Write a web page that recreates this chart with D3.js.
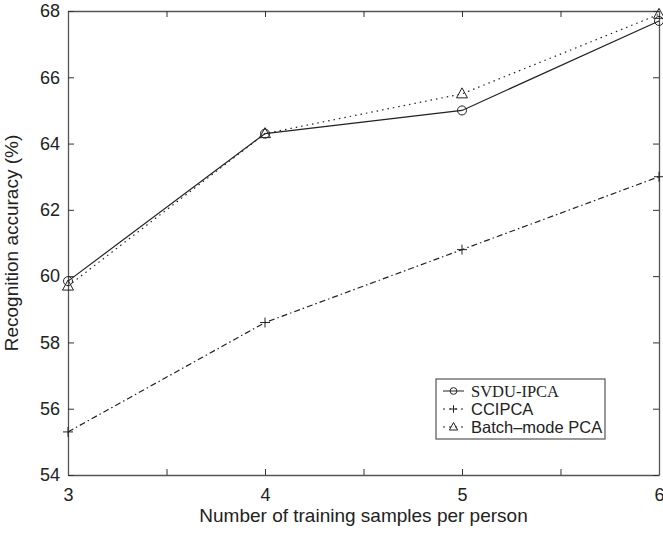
<!DOCTYPE html>
<html>
<head>
<meta charset="utf-8">
<script src="https://cdn.jsdelivr.net/npm/d3@7"></script>
<style>
body{margin:0;background:#fff;}
text{font-family:"Liberation Sans",Arial,sans-serif;fill:#222;}
</style>
</head>
<body>
<div id="chart"></div>
<script>
var samples = [3, 4, 5, 6];
var svduIpca = [59.85, 64.3, 65.0, 67.7];
var ccipca   = [55.3, 58.6, 60.8, 63.0];
var batchPca = [59.7, 64.3, 65.5, 67.9];
var xTicks = [3, 3.5, 4, 4.5, 5, 5.5, 6];
var yTicks = [54, 56, 58, 60, 62, 64, 66, 68];

var series = [
	{name:"SVDU-IPCA", values:svduIpca, dash:null, marker:"circle"},
	{name:"CCIPCA", values:ccipca, dash:"6,3,1.5,3", marker:"plus"},
	{name:"Batch\u2013mode PCA", values:batchPca, dash:"1.5,4", marker:"triangle"}
];

var margin = {top: 11, right: 4, bottom: 58, left: 68},
	width = 663 - margin.left - margin.right,
	height = 533 - margin.top - margin.bottom;

var x = d3.scaleLinear().domain([3,6]).range([0,width]);
var y = d3.scaleLinear().domain([54,68]).range([height,0]);

var svg = d3.select("#chart")
	.append("svg")
	.attr("width",663)
	.attr("height",533)
	.append("g")
	.attr("transform","translate(" + margin.left + "," + margin.top + ")");

// axes, ticks pointing inwards on all four sides
var tl = 6;
svg.append("g")
	.attr("transform","translate(0," + height + ")")
	.call(d3.axisBottom(x).tickValues(xTicks).tickSizeInner(-tl).tickSizeOuter(0)
		.tickFormat(function(d){ return d % 1 === 0 ? d : ""; }))
	.call(function(g){ g.selectAll("text").attr("dy","1.25em").style("font-size","18px"); });
svg.append("g")
	.call(d3.axisTop(x).tickValues(xTicks).tickSizeInner(-tl).tickSizeOuter(0).tickFormat(""));
svg.append("g")
	.call(d3.axisLeft(y).tickValues(yTicks).tickSizeInner(-tl).tickSizeOuter(0).tickPadding(8))
	.call(function(g){ g.selectAll("text").style("font-size","18px"); });
svg.append("g")
	.attr("transform","translate(" + width + ",0)")
	.call(d3.axisRight(y).tickValues(yTicks).tickSizeInner(-tl).tickSizeOuter(0).tickFormat(""));
svg.selectAll(".domain").attr("stroke","#555").attr("stroke-width",1.3);
svg.selectAll(".tick line").attr("stroke","#333");

svg.append("text")
	.attr("text-anchor","middle")
	.attr("transform","translate(" + (-50) + "," + (height/2) + ")rotate(-90)")
	.text("Recognition accuracy (%)")
	.style("font-size","19px");
svg.append("text")
	.attr("text-anchor","middle")
	.attr("x",width/2)
	.attr("y",height + 47)
	.text("Number of training samples per person")
	.style("font-size","19px");

var line = d3.line()
	.x(function(d,i){ return x(samples[i]); })
	.y(function(d){ return y(d); });

function drawMarker(g, type, cx, cy, k){
	k = k || 1;
	if(type === "circle"){
		g.append("circle").attr("cx",cx).attr("cy",cy).attr("r",4.5*k)
			.attr("fill","none").attr("stroke","#222");
	} else if(type === "plus"){
		g.append("path").attr("d","M"+(cx-5*k)+","+cy+"H"+(cx+5*k)+"M"+cx+","+(cy-5*k)+"V"+(cy+5*k))
			.attr("stroke","#222");
	} else {
		g.append("path").attr("d","M"+cx+","+(cy-6*k)+"L"+(cx+5.5*k)+","+(cy+4*k)+"L"+(cx-5.5*k)+","+(cy+4*k)+"Z")
			.attr("fill","none").attr("stroke","#222");
	}
}

series.forEach(function(s){
	svg.append("path")
		.datum(s.values)
		.attr("d",line)
		.attr("fill","none")
		.attr("stroke","#222")
		.attr("stroke-width",1.2)
		.attr("stroke-dasharray",s.dash);
	var mg = svg.append("g");
	s.values.forEach(function(v,i){
		drawMarker(mg, s.marker, x(samples[i]), y(v));
	});
});

// legend
var lx = 436 - margin.left, ly = 379 - margin.top;
var legend = svg.append("g").attr("transform","translate(" + lx + "," + ly + ")");
legend.append("rect")
	.attr("width",169).attr("height",60)
	.attr("fill","#fff").attr("stroke","#555").attr("stroke-width",1.2);
series.forEach(function(s,i){
	var ry = 12 + i*18;
	legend.append("line")
		.attr("x1",7).attr("x2",28).attr("y1",ry).attr("y2",ry)
		.attr("stroke","#222").attr("stroke-dasharray", s.dash ? "2,4" : null);
	drawMarker(legend, s.marker, 17.5, ry, 0.75);
	legend.append("text")
		.attr("x",35).attr("y",ry)
		.attr("dy","0.36em")
		.text(s.name)
		.style("font-size","16.5px")
		.style("font-family", i === 0 ? "'Liberation Serif',serif" : null);
});
</script>
</body>
</html>
